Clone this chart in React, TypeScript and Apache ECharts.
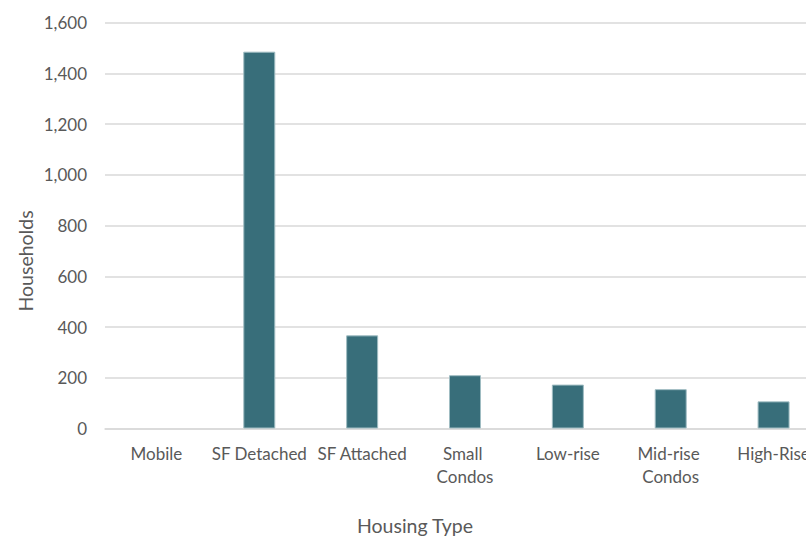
import React, { useEffect, useRef } from "react";
import * as echarts from "echarts";

const categories = ["Mobile", "SF Detached", "SF Attached", "Small Condos", "Low-rise", "Mid-rise Condos", "High-Rise"];
const households = [0, 1485, 367, 210, 173, 155, 107];
const yTicks = { min: 0, max: 1600, interval: 200 };
const xTitle = "Housing Type";
const yTitle = "Households";

export default function App() {
  const ref = useRef<HTMLDivElement>(null);
  useEffect(() => {
    if (!ref.current) return;
    const chart = echarts.init(ref.current, undefined, { renderer: "svg" });
    const font = "Lato, 'Open Sans', sans-serif";
    chart.setOption({
      animation: false,
      textStyle: { fontFamily: font },
      grid: { left: 105, top: 22.5, bottom: 108.5, width: 720, containLabel: false },
      graphic: [
        {
          type: "text",
          x: 415,
          y: 525,
          style: { text: xTitle, fill: "#595959", font: `19.5px ${font}`, align: "center", verticalAlign: "middle" },
        },
        {
          type: "text",
          x: 25,
          y: 261,
          rotation: Math.PI / 2,
          style: { text: yTitle, fill: "#595959", font: `19.5px ${font}`, align: "center", verticalAlign: "middle" },
        },
      ],
      xAxis: {
        type: "category",
        data: categories,
        axisLine: { show: true, lineStyle: { color: "#d9d9d9", width: 1.5 } },
        axisTick: { show: false },
        axisLabel: {
          color: "#595959",
          fontSize: 17,
          fontFamily: font,
          margin: 13,
          interval: 0,
          width: 98,
          overflow: "break",
          lineHeight: 23,
        },
      },
      yAxis: {
        type: "value",
        min: yTicks.min,
        max: yTicks.max,
        interval: yTicks.interval,
        axisLine: { show: false },
        axisTick: { show: false },
        axisLabel: {
          color: "#595959",
          fontSize: 17,
          fontFamily: font,
          margin: 18,
          formatter: (v: number) => v.toLocaleString("en-US"),
        },
        splitLine: { lineStyle: { color: "#d9d9d9", width: 1.5 } },
      },
      series: [
        {
          type: "bar",
          data: households.map((v) => ({ value: v, itemStyle: v === 0 ? { borderWidth: 0 } : {} })),
          barWidth: 32,
          itemStyle: { color: "#386e7a", borderColor: "#9fbcc2", borderWidth: 1 },
        },
      ],
    });
    return () => chart.dispose();
  }, []);
  return (
    <div style={{ position: "fixed", left: 0, top: 0, width: 806, height: 537, overflow: "hidden", background: "#fff" }}>
      <div ref={ref} style={{ width: 840, height: 537 }} />
    </div>
  );
}
